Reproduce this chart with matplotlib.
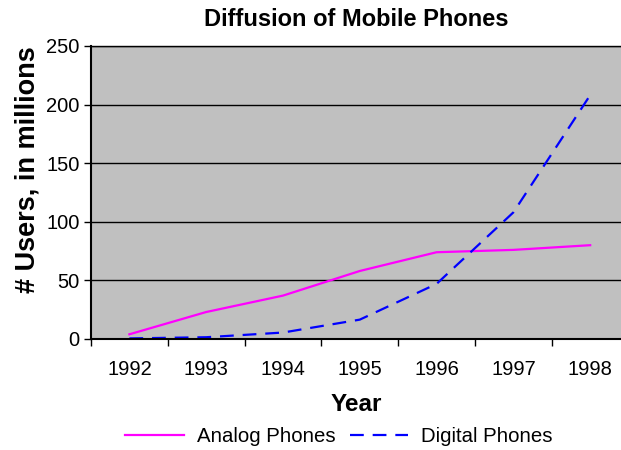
import matplotlib
matplotlib.use("Agg")
import matplotlib.pyplot as plt
import numpy as np

plt.rcParams['font.family'] = ['Liberation Sans', 'DejaVu Sans']

years = ['1992', '1993', '1994', '1995', '1996', '1997', '1998']
analog = [4, 23, 37, 58, 74, 76, 80]
digital = [0.5, 1.5, 5.5, 16.5, 47, 108, 208]
yticks = [0, 50, 100, 150, 200, 250]

fig = plt.figure(figsize=(6.21, 4.5), dpi=100)
ax = fig.add_axes([0.1465, 0.2467, 0.8657, 0.6513])
ax.set_facecolor('#C0C0C0')

x = np.arange(len(years))
ax.plot(x, analog, color='#FF00FF', lw=1.6, label='Analog Phones')
ax.plot(x, digital, color='#0000FF', lw=1.6, dashes=(6.2, 4.0), label='Digital Phones')

ax.set_xlim(-0.5, len(years) - 0.5)
ax.set_ylim(0, 250)
ax.set_yticks(yticks)
ax.set_yticklabels([str(v) for v in yticks], fontsize=14.5)
ax.set_xticks(np.arange(len(years) + 1) - 0.5)
ax.set_xticklabels([])
ax.set_xticks(x, minor=True)
ax.set_xticklabels(years, minor=True, fontsize=14.5)
ax.tick_params(axis='x', which='minor', length=0, pad=15)
ax.tick_params(axis='x', which='major', length=5, width=1, direction='out')
ax.tick_params(axis='y', length=5, width=1, direction='out', pad=3)

ax.yaxis.grid(True, color='black', lw=1)
ax.set_axisbelow(True)
for s in ax.spines.values():
    s.set_color('black')
    s.set_linewidth(1)
ax.spines['bottom'].set_linewidth(1.5)
ax.spines['left'].set_linewidth(1.5)

ax.set_title('Diffusion of Mobile Phones', fontsize=17, fontweight='bold', pad=14, x=0.493)
ax.set_ylabel('# Users, in millions', fontsize=19.5, fontweight='bold', labelpad=4)
ax.yaxis.label.set_y(0.577)
ax.set_xlabel('Year', fontsize=17.5, fontweight='bold', labelpad=10)
ax.xaxis.label.set_x(0.493)

fig.legend(loc='center', bbox_to_anchor=(0.546, 0.03), ncol=2, frameon=False,
           fontsize=14.7, handlelength=2.85, columnspacing=0.7, handletextpad=0.65)

fig.savefig('out.png', dpi=100)
